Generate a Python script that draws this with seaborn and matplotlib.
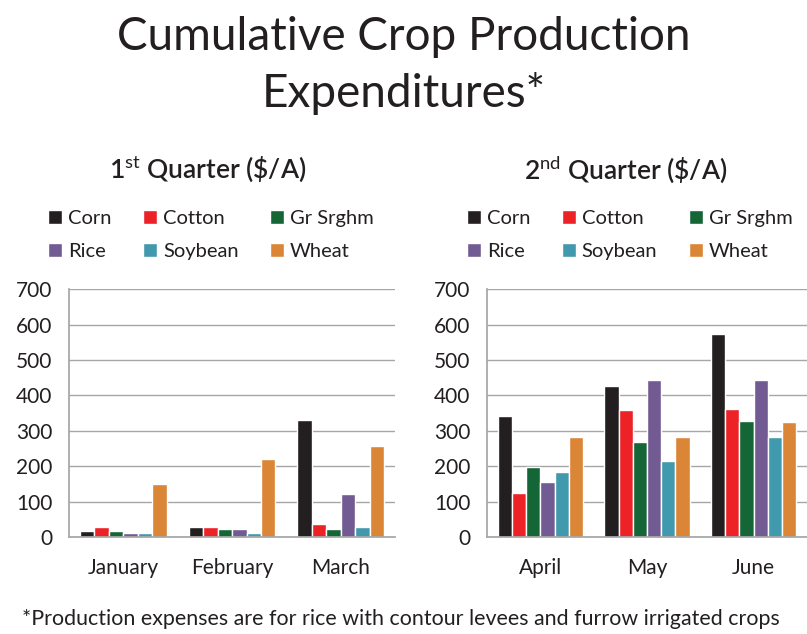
import pandas as pd
import matplotlib.pyplot as plt
import seaborn as sns
from matplotlib import font_manager
from matplotlib.patches import Patch

months_q1 = ['January', 'February', 'March']
months_q2 = ['April', 'May', 'June']
crops = ['Corn', 'Cotton', 'Gr Srghm', 'Rice', 'Soybean', 'Wheat']
colors = ['#231f20', '#ec2227', '#146636', '#725a93', '#4199ae', '#db8537']

# values per crop, one entry per month
q1_corn = [18, 29, 331]
q1_cotton = [27, 27, 38]
q1_srghm = [18, 23, 23]
q1_rice = [12, 23, 122]
q1_soybean = [12, 12, 29]
q1_wheat = [150, 221, 257]

q2_corn = [342, 427, 573]
q2_cotton = [125, 359, 362]
q2_srghm = [198, 269, 328]
q2_rice = [156, 444, 444]
q2_soybean = [184, 215, 283]
q2_wheat = [283, 283, 325]

yticks = [0, 100, 200, 300, 400, 500, 600, 700]


def to_long(months, series):
    rows = []
    for crop, vals in zip(crops, series):
        for m, v in zip(months, vals):
            rows.append({'month': m, 'crop': crop, 'value': v})
    return pd.DataFrame(rows)


df1 = to_long(months_q1, [q1_corn, q1_cotton, q1_srghm, q1_rice, q1_soybean, q1_wheat])
df2 = to_long(months_q2, [q2_corn, q2_cotton, q2_srghm, q2_rice, q2_soybean, q2_wheat])

sns.set_theme(style='white')
installed = {f.name for f in font_manager.fontManager.ttflist}
font = next(f for f in ['Liberation Sans Narrow', 'Lato', 'DejaVu Sans'] if f in installed)
plt.rcParams['font.family'] = [font, 'DejaVu Sans']
plt.rcParams['mathtext.fontset'] = 'custom'
plt.rcParams['mathtext.rm'] = font
plt.rcParams['text.color'] = '#231f20'

fig = plt.figure(figsize=(8.07, 6.34), dpi=100)
fig.text(0.5, 0.942, 'Cumulative Crop Production', ha='center', va='center', fontsize=33)
fig.text(0.5, 0.853, 'Expenditures*', ha='center', va='center', fontsize=33)

ax1 = fig.add_axes([0.0855, 0.153, 0.404, 0.391])
ax2 = fig.add_axes([0.6035, 0.153, 0.3965, 0.391])


def draw(ax, data, months, title, cx):
    sns.barplot(data=data, x='month', y='value', hue='crop', order=months, hue_order=crops,
                palette=colors, width=0.8, saturation=1, ax=ax, legend=False)
    ax.set_ylim(0, 700)
    ax.set_yticks(yticks)
    ax.set_xlim(-0.5, 2.5)
    ax.set_xlabel('')
    ax.set_ylabel('')
    ax.grid(axis='y', color='#a6a6a6', linewidth=1)
    ax.set_axisbelow(True)
    for s in ['top', 'right']:
        ax.spines[s].set_visible(False)
    ax.spines['left'].set_color('#a6a6a6')
    ax.spines['bottom'].set_color('#a6a6a6')
    ax.tick_params(axis='y', length=0, labelsize=15, pad=12, labelcolor='#231f20')
    ax.tick_params(axis='x', which='major', length=0, labelsize=15, pad=15, labelcolor='#231f20')
    ax.set_xticks([-0.5, 0.5, 1.5, 2.5], minor=True)
    ax.tick_params(axis='x', which='minor', length=6, color='#a6a6a6', width=1)
    fig.text(cx, 0.733, title, ha='center', va='center', fontsize=19, fontweight='semibold')
    # legend fills column by column, so reorder to read row by row
    order = [0, 3, 1, 4, 2, 5]
    handles = [Patch(facecolor=colors[i], label=crops[i]) for i in order]
    leg = ax.legend(handles=handles, ncol=3, loc='lower left', bbox_to_anchor=(-0.12, 1.045),
                    frameon=False, fontsize=14.5, handlelength=0.7, handleheight=0.7,
                    handletextpad=0.3, columnspacing=1.55, labelspacing=0.8)
    return leg


draw(ax1, df1, months_q1, r'1$^{\mathrm{st}}$ Quarter (\$/A)', 0.257)
draw(ax2, df2, months_q2, r'2$^{\mathrm{nd}}$ Quarter (\$/A)', 0.775)

fig.text(0.497, 0.024, '*Production expenses are for rice with contour levees and furrow irrigated crops',
         ha='center', va='center', fontsize=15.4)

fig.savefig('out.png', dpi=100)
